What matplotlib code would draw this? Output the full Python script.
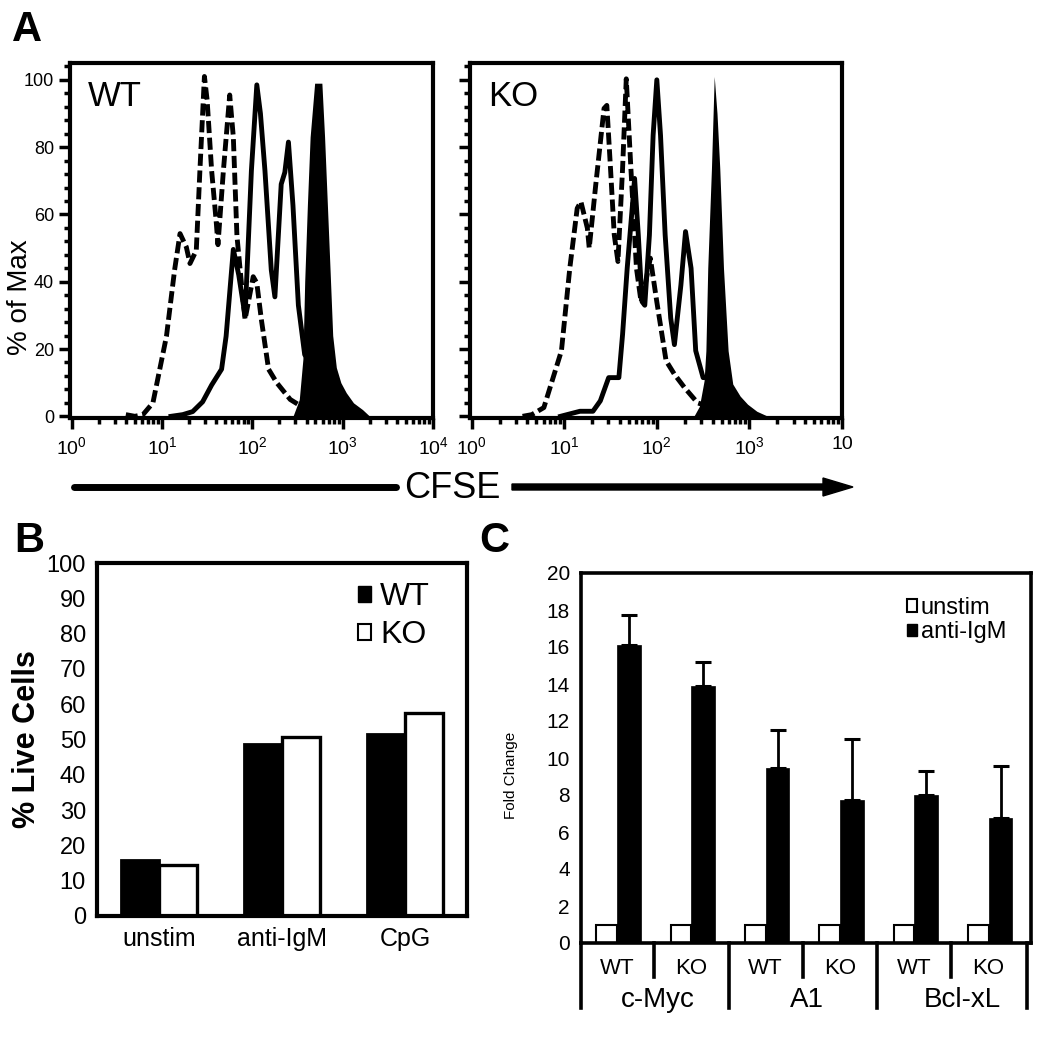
import matplotlib
matplotlib.use("Agg")
import matplotlib.pyplot as plt
import numpy as np
from matplotlib.patches import Patch
from matplotlib.ticker import MultipleLocator, FixedLocator, LogLocator, NullFormatter
from matplotlib.transforms import blended_transform_factory

plt.rcParams["font.family"] = ["Liberation Sans", "DejaVu Sans"]
plt.rcParams["mathtext.fontset"] = "custom"
plt.rcParams["mathtext.rm"] = "Liberation Sans"
plt.rcParams["mathtext.default"] = "regular"

# ---- panel A: CFSE histograms (x given as log10 CFSE, y = % of Max) ----
wt_dash_log = [0.60, 0.70, 0.79, 0.90, 1.05, 1.14, 1.20, 1.27, 1.31, 1.38, 1.42, 1.47, 1.50, 1.55,
               1.60, 1.62, 1.68, 1.75, 1.79, 1.83, 1.90, 1.92, 2.01, 2.05, 2.10, 2.18, 2.27, 2.42,
               2.60, 2.75, 2.85]
wt_dash = [0.5, 0, 0.5, 4, 23.8, 43.5, 54.3, 50.3, 45.4, 49.3, 73, 101, 94, 73,
           58, 51, 73, 95.5, 83, 53.6, 33.8, 28.8, 41.5, 39.6, 28.8, 14, 10, 5,
           2, 1, 0]
wt_solid_log = [1.10, 1.23, 1.34, 1.45, 1.55, 1.66, 1.71, 1.79, 1.85, 1.92, 1.99, 2.05, 2.09, 2.14,
                2.21, 2.25, 2.32, 2.36, 2.40, 2.45, 2.51, 2.58, 2.64, 2.70, 2.80, 2.90, 3.00, 3.10]
wt_solid = [0, 0.5, 1.4, 4.3, 9.3, 14, 23.8, 49.6, 42, 29.8, 73, 98.5, 90, 73,
            43.5, 35.5, 69, 72.5, 81.5, 62.7, 33, 18.3, 16.3, 30, 20, 8, 2, 0]
wt_fill_log = [2.45, 2.52, 2.56, 2.58, 2.61, 2.64, 2.69, 2.77, 2.80, 2.83, 2.86, 2.89, 2.93, 2.98,
               3.04, 3.12, 3.22, 3.30]
wt_fill = [0, 5, 17, 40, 63, 83, 99, 99, 83, 63.5, 44, 24, 14.5, 10,
           7, 4, 2, 0]

ko_dash_log = [0.55, 0.65, 0.78, 0.97, 1.06, 1.14, 1.18, 1.25, 1.27, 1.34, 1.43, 1.46, 1.50, 1.54,
               1.58, 1.63, 1.67, 1.72, 1.78, 1.83, 1.88, 1.93, 2.00, 2.10, 2.19, 2.30, 2.44, 2.66,
               2.75, 2.80]
ko_dash = [0, 0.5, 2.6, 19.5, 44, 61.8, 63.8, 55.9, 50, 68.7, 91.5, 92.4, 73.6, 54,
           46, 73.6, 100.3, 73.6, 44, 34, 40, 47, 34, 16.5, 12.5, 8.5, 4, 2,
           1.5, 0.5]
ko_solid_log = [0.96, 1.17, 1.31, 1.39, 1.48, 1.59, 1.63, 1.68, 1.74, 1.76, 1.80, 1.84, 1.87, 1.92,
                1.96, 2.00, 2.04, 2.09, 2.15, 2.19, 2.26, 2.31, 2.37, 2.42, 2.50, 2.75, 2.85, 2.95,
                3.05]
ko_solid = [0, 1.5, 1.5, 4.6, 11.5, 11.5, 24.3, 44, 63.8, 70.7, 53.9, 34.1, 33, 53.9,
            83.5, 100, 83.5, 53.9, 29.2, 21.3, 39, 54.9, 44, 19.5, 11.5, 12, 5, 1.5,
            0]
ko_fill_log = [2.40, 2.46, 2.51, 2.53, 2.55, 2.59, 2.62, 2.65, 2.68, 2.72, 2.77, 2.82, 2.90, 2.98,
               3.08, 3.20]
ko_fill = [0, 3, 10.5, 19.5, 44, 73.6, 101, 90, 73.6, 44, 19.5, 9.6, 6, 3.6,
           1.5, 0]

# ---- panel B ----
conditions = ["unstim", "anti-IgM", "CpG"]
live_wt = [16, 48.6, 51.5]
live_ko = [14.5, 50.7, 57.5]

# ---- panel C ----
genes = ["c-Myc", "A1", "Bcl-xL"]
genotypes = ["WT", "KO", "WT", "KO", "WT", "KO"]
fold_unstim = [1, 1, 1, 1, 1, 1]
fold_igm = [16.1, 13.9, 9.45, 7.75, 8.0, 6.75]
fold_igm_err = [1.65, 1.3, 2.05, 3.3, 1.3, 2.8]

fig = plt.figure(figsize=(10.5, 10.5), dpi=100)
W = 1050.0


def px_axes(l, t, r, b):
    return fig.add_axes([l / W, 1 - b / W, (r - l) / W, (b - t) / W])


def hist_panel(ax, dl, d, sl, s, fl, f, name, ticklabels, ylabels):
    ax.fill_between(10 ** np.array(fl), f, 0, color="black", lw=0, zorder=2)
    ax.plot(10 ** np.array(sl), s, color="black", lw=3.5, zorder=3, solid_joinstyle="round")
    ax.plot(10 ** np.array(dl), d, color="black", lw=3.5, ls=(0, (2.5, 0.95)), zorder=4,
            dash_joinstyle="round")
    ax.set_xscale("log")
    ax.set_xlim(0.96, 1e4)
    ax.set_ylim(-0.5, 105)
    ax.xaxis.set_major_locator(FixedLocator([1, 10, 100, 1000, 10000]))
    ax.set_xticklabels(ticklabels)
    ax.xaxis.set_minor_locator(LogLocator(base=10, subs=np.arange(2, 10)))
    ax.xaxis.set_minor_formatter(NullFormatter())
    ax.yaxis.set_major_locator(MultipleLocator(20))
    ax.yaxis.set_minor_locator(MultipleLocator(4))
    if not ylabels:
        ax.set_yticklabels([])
    ax.tick_params(which="major", direction="out", length=8, width=2.5, labelsize=13)
    ax.tick_params(axis="x", which="major", pad=5, labelsize=14)
    ax.tick_params(which="minor", direction="out", length=4.5, width=2.5)
    for sp in ax.spines.values():
        sp.set_linewidth(3)
    ax.text(0.05, 0.905, name, transform=ax.transAxes, fontsize=25, va="center", ha="left")


axW = px_axes(70, 63, 433, 418)
hist_panel(axW, wt_dash_log, wt_dash, wt_solid_log, wt_solid, wt_fill_log, wt_fill, "WT",
           ["$10^{0}$", "$10^{1}$", "$10^{2}$", "$10^{3}$", "$10^{4}$"], True)
axW.set_ylabel("% of Max", fontsize=20)
axW.yaxis.set_label_coords(-0.102, 0.34)

axK = px_axes(470, 63, 842, 418)
hist_panel(axK, ko_dash_log, ko_dash, ko_solid_log, ko_solid, ko_fill_log, ko_fill, "KO",
           ["$10^{0}$", "$10^{1}$", "$10^{2}$", "$10^{3}$", "10"], False)

# ---- panel B ----
axB = px_axes(97, 563, 467, 916)
xb = np.arange(len(conditions))
axB.bar(xb - 0.31, live_wt, width=0.31, align="edge", color="black", edgecolor="black", lw=2)
axB.bar(xb, live_ko, width=0.31, align="edge", color="white", edgecolor="black", lw=2.4)
axB.set_xlim(-0.504, 2.504)
axB.set_ylim(0, 100)
axB.set_yticks(np.arange(0, 101, 10))
axB.set_xticks(xb)
axB.set_xticklabels(conditions)
axB.tick_params(axis="y", length=0, labelsize=17, pad=8)
axB.tick_params(axis="x", length=0, labelsize=18, pad=8)
for sp in axB.spines.values():
    sp.set_linewidth(3)
axB.set_ylabel("% Live Cells", fontsize=22, fontweight="bold")
axB.yaxis.set_label_coords(-0.149, 0.5)
axB.legend(handles=[Patch(facecolor="black", edgecolor="black"),
                    Patch(facecolor="white", edgecolor="black", lw=1.5)],
           labels=["WT", "KO"], loc="upper right", bbox_to_anchor=(0.9, 0.945),
           frameon=False, fontsize=23, handlelength=0.4, handleheight=0.4,
           handletextpad=0.3, labelspacing=0.25, borderaxespad=0, borderpad=0)

# ---- panel C ----
axC = px_axes(581, 573, 1031, 943)
xc = np.arange(len(genotypes))
axC.bar(xc - 0.28, fold_unstim, width=0.28, align="edge", color="white", edgecolor="black", lw=1.5)
axC.bar(xc, fold_igm, width=0.32, align="edge", color="black", edgecolor="black", lw=0.5)
axC.errorbar(xc + 0.16, fold_igm, yerr=[np.zeros(len(xc)), fold_igm_err], fmt="none",
             ecolor="black", elinewidth=2, capsize=6, capthick=2.2)
axC.set_xlim(-0.485, 5.57)
axC.set_ylim(0, 20)
axC.set_yticks(np.arange(0, 21, 2))
axC.set_xticks([])
axC.tick_params(axis="y", length=0, labelsize=15, pad=8)
for sp in axC.spines.values():
    sp.set_linewidth(2.6)
axC.set_ylabel("Fold Change", fontsize=11)
axC.yaxis.set_label_coords(-0.14, 0.454)
axC.legend(handles=[Patch(facecolor="white", edgecolor="black", lw=1.5),
                    Patch(facecolor="black", edgecolor="black")],
           labels=["unstim", "anti-IgM"], loc="upper right", bbox_to_anchor=(0.945, 0.935),
           frameon=False, fontsize=17, handlelength=0.45, handleheight=0.45,
           handletextpad=0.15, labelspacing=0.1, borderaxespad=0, borderpad=0)

tr = blended_transform_factory(axC.transData, axC.transAxes)
for s in [-0.485, 1.5, 3.5, 5.52]:
    axC.plot([s, s], [0, -0.176], transform=tr, clip_on=False, color="black", lw=2.6)
for s in [0.5, 2.5, 4.5]:
    axC.plot([s, s], [0, -0.092], transform=tr, clip_on=False, color="black", lw=2.6)
for x, g in zip(xc, genotypes):
    axC.text(x, -0.068, g, transform=tr, ha="center", va="center", fontsize=16)
for x, g in zip([0.55, 2.55, 4.65], genes):
    axC.text(x, -0.154, g, transform=tr, ha="center", va="center", fontsize=20)

# ---- overlay: panel letters and CFSE arrow ----
ov = fig.add_axes([0, 0, 1, 1])
ov.set_xlim(0, W)
ov.set_ylim(W, 0)
ov.set_axis_off()
ov.patch.set_visible(False)
ov.plot([74, 396], [487, 487], color="black", lw=5, solid_capstyle="round")
ov.arrow(512, 487, 341, 0, width=6, head_width=18, head_length=30,
         length_includes_head=True, color="black")
ov.text(452, 489, "CFSE", fontsize=26, ha="center", va="center")
ov.text(12, 41, "A", fontsize=30, fontweight="bold", ha="left", va="baseline")
ov.text(14, 552, "B", fontsize=30, fontweight="bold", ha="left", va="baseline")
ov.text(479, 552, "C", fontsize=30, fontweight="bold", ha="left", va="baseline")

fig.savefig("out.png", dpi=100)
